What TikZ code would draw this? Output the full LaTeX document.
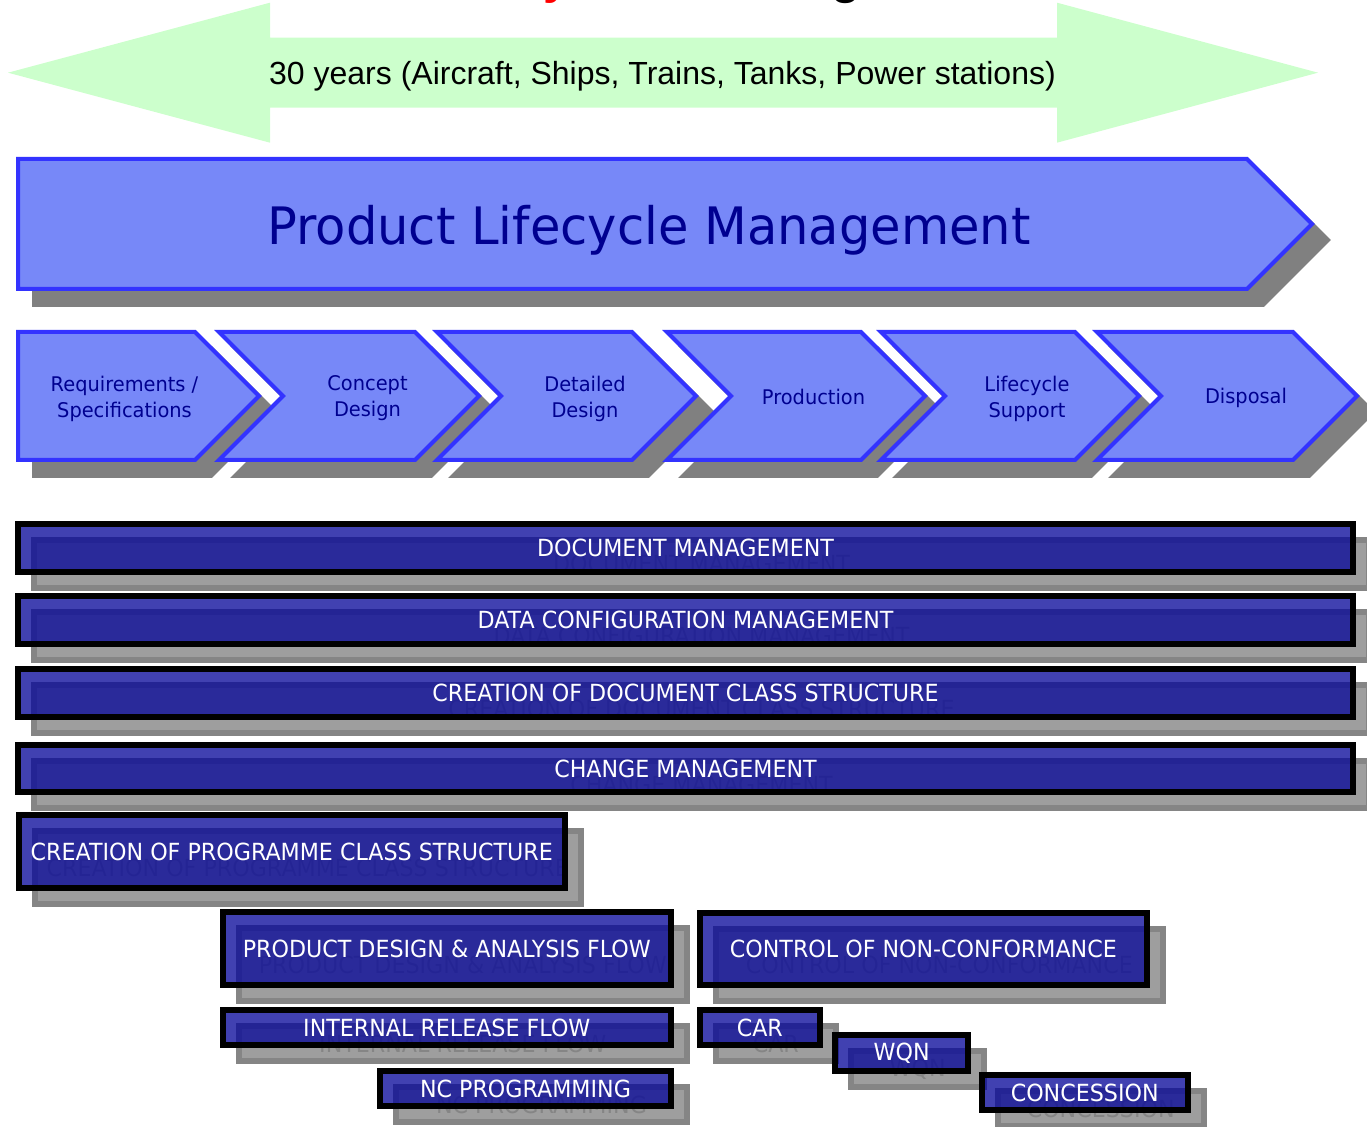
\documentclass[tikz,border=0pt]{standalone}
\usepackage{fontspec}
\setmainfont{Liberation Sans}
\newfontfamily\plmfont{DejaVu Sans}[FakeStretch=0.96]
\newfontfamily\barfont{DejaVu Sans}[FakeStretch=0.94]
\usetikzlibrary{positioning}

\definecolor{spangreen}{HTML}{CCFFCC}
\definecolor{plmfill}{HTML}{7788F8}
\definecolor{plmline}{HTML}{3333FF}
\definecolor{plmtext}{HTML}{000090}
\definecolor{plmshade}{HTML}{808080}
\definecolor{barfill}{RGB}{8,8,153}
\definecolor{barshade}{HTML}{9E9E9E}
\definecolor{barshadeline}{HTML}{858585}

\begin{document}
\begin{tikzpicture}[x=0.5pt, y=-0.5pt,
  chev/.style={fill=plmfill, draw=plmline, line width=2pt},
  chevsh/.style={fill=plmshade, draw=plmshade, line width=2pt},
  phase/.style={font=\plmfont\fontsize{10.1}{13}\selectfont, text=plmtext, align=center, inner sep=0pt},
  bar/.style={draw=black, line width=3pt, fill=barfill, fill opacity=0.77, text opacity=1, text=white, inner sep=0pt, font=\barfont\fontsize{11.8}{14}\selectfont},
  barsh/.style={draw=barshadeline, line width=3pt, fill=barshade, text=barshadeline, inner sep=0pt, font=\barfont\fontsize{11.8}{14}\selectfont}]
\useasboundingbox (0,0) rectangle (1367,1127);

% title letters running off the top edge
\node[inner sep=0pt, anchor=base west, text=red, font=\bfseries\fontsize{24}{28}\selectfont] (ttla) at (543,-6) {y};
\node[inner sep=0pt, anchor=base west, font=\bfseries\fontsize{24}{28}\selectfont] (ttlb) at (831,-6) {g};

% life span arrow
\fill[spangreen] (8,72.7) -- (270,2.7) -- (270,37.7) -- (1057,37.7) -- (1057,2.7) -- (1318,72.7) -- (1057,142.7) -- (1057,107.7) -- (270,107.7) -- (270,142.7) -- cycle;
\node[anchor=base, inner sep=0pt, font=\fontsize{16}{19}\selectfont] (span) at (662.5,85) {30 years (Aircraft, Ships, Trains, Tanks, Power stations)};

% PLM banner
\draw[chevsh, shift={(16,16)}] (18,159) -- (1247,159) -- (1312,224) -- (1247,289) -- (18,289) -- cycle;
\draw[chev] (18,159) -- (1247,159) -- (1312,224) -- (1247,289) -- (18,289) -- cycle;
\node[anchor=base, inner sep=0pt, font=\plmfont\fontsize{25.8}{30}\selectfont, text=plmtext] (plm) at (649,244.3) {Product Lifecycle Management};

% phase chevrons, shadows first
\draw[chevsh, shift={(16,16)}] (18,332) -- (195,332) -- (259,396) -- (195,460) -- (18,460) -- cycle;
\draw[chevsh, shift={(16,16)}] (219,332) -- (415,332) -- (479,396) -- (415,460) -- (219,460) -- (283,396) -- cycle;
\draw[chevsh, shift={(16,16)}] (437,332) -- (632,332) -- (696,396) -- (632,460) -- (437,460) -- (501,396) -- cycle;
\draw[chevsh, shift={(16,16)}] (667,332) -- (861,332) -- (925,396) -- (861,460) -- (667,460) -- (731,396) -- cycle;
\draw[chevsh, shift={(16,16)}] (881,332) -- (1075,332) -- (1139,396) -- (1075,460) -- (881,460) -- (945,396) -- cycle;
\draw[chevsh, shift={(16,16)}] (1097,332) -- (1293,332) -- (1357,396) -- (1293,460) -- (1097,460) -- (1161,396) -- cycle;
\draw[chev] (18,332) -- (195,332) -- (259,396) -- (195,460) -- (18,460) -- cycle;
\draw[chev] (219,332) -- (415,332) -- (479,396) -- (415,460) -- (219,460) -- (283,396) -- cycle;
\draw[chev] (437,332) -- (632,332) -- (696,396) -- (632,460) -- (437,460) -- (501,396) -- cycle;
\draw[chev] (667,332) -- (861,332) -- (925,396) -- (861,460) -- (667,460) -- (731,396) -- cycle;
\draw[chev] (881,332) -- (1075,332) -- (1139,396) -- (1075,460) -- (881,460) -- (945,396) -- cycle;
\draw[chev] (1097,332) -- (1293,332) -- (1357,396) -- (1293,460) -- (1097,460) -- (1161,396) -- cycle;
\node[phase] (req) at (124.5,398.5) {Requirements /\\Specifications};
\node[phase] (cpt) at (367.5,398.5) {Concept\\Design};
\node[phase] (det) at (585,398.5) {Detailed\\Design};
\node[phase, anchor=base] (prd) at (813.5,405) {Production};
\node[phase] (lcs) at (1027,398.5) {Lifecycle\\Support};
\node[phase, anchor=base] (dsp) at (1246,404) {Disposal};

% activity bars
\node[barsh, minimum width=667.5pt, minimum height=24pt] (docsh) at (701.5,564) {DOCUMENT MANAGEMENT};
\node[bar, minimum width=667.5pt, minimum height=24pt] (doc) at (685.5,548) {DOCUMENT MANAGEMENT};
\node[barsh, minimum width=667.5pt, minimum height=24pt] (dcmsh) at (701.5,636) {DATA CONFIGURATION MANAGEMENT};
\node[bar, minimum width=667.5pt, minimum height=24pt] (dcm) at (685.5,620) {DATA CONFIGURATION MANAGEMENT};
\node[barsh, minimum width=667.5pt, minimum height=24pt] (dcssh) at (701.5,709) {CREATION OF DOCUMENT CLASS STRUCTURE};
\node[bar, minimum width=667.5pt, minimum height=24pt] (dcs) at (685.5,693) {CREATION OF DOCUMENT CLASS STRUCTURE};
\node[barsh, minimum width=667.5pt, minimum height=23.5pt] (chgsh) at (701.5,784.5) {CHANGE MANAGEMENT};
\node[bar, minimum width=667.5pt, minimum height=23.5pt] (chg) at (685.5,768.5) {CHANGE MANAGEMENT};
\node[barsh, minimum width=273.25pt, minimum height=36.5pt] (pcssh) at (307.75,867.5) {CREATION OF PROGRAMME CLASS STRUCTURE};
\node[bar, minimum width=273.25pt, minimum height=36.5pt] (pcs) at (291.75,851.5) {CREATION OF PROGRAMME CLASS STRUCTURE};
\node[barsh, minimum width=224.2pt, minimum height=36.5pt] (pdash) at (462.8,964.5) {PRODUCT DESIGN \& ANALYSIS FLOW};
\node[bar, minimum width=224.2pt, minimum height=36.5pt] (pda) at (446.8,948.5) {PRODUCT DESIGN \& ANALYSIS FLOW};
\node[barsh, minimum width=223.65pt, minimum height=36pt] (ncfsh) at (939.4,965) {CONTROL OF NON-CONFORMANCE};
\node[bar, minimum width=223.65pt, minimum height=36pt] (ncf) at (923.4,949) {CONTROL OF NON-CONFORMANCE};
\node[barsh, minimum width=224.2pt, minimum height=17.8pt] (irfsh) at (462.8,1043.5) {INTERNAL RELEASE FLOW};
\node[bar, minimum width=224.2pt, minimum height=17.8pt] (irf) at (446.8,1027.5) {INTERNAL RELEASE FLOW};
\node[barsh, minimum width=60.1pt, minimum height=17.8pt] (carsh) at (775.8,1043.5) {CAR};
\node[bar, minimum width=60.1pt, minimum height=17.8pt] (car) at (759.8,1027.5) {CAR};
\node[barsh, minimum width=66.7pt, minimum height=17.8pt] (wqnsh) at (917.7,1069.2) {WQN};
\node[bar, minimum width=66.7pt, minimum height=17.8pt] (wqn) at (901.7,1053.2) {WQN};
\node[barsh, minimum width=145.5pt, minimum height=17.8pt] (ncpsh) at (541.5,1104.5) {NC PROGRAMMING};
\node[bar, minimum width=145.5pt, minimum height=17.8pt] (ncp) at (525.5,1088.5) {NC PROGRAMMING};
\node[barsh, minimum width=102.8pt, minimum height=17.8pt] (consh) at (1100.7,1108.5) {CONCESSION};
\node[bar, minimum width=102.8pt, minimum height=17.8pt] (con) at (1084.7,1092.5) {CONCESSION};
\end{tikzpicture}
\end{document}
